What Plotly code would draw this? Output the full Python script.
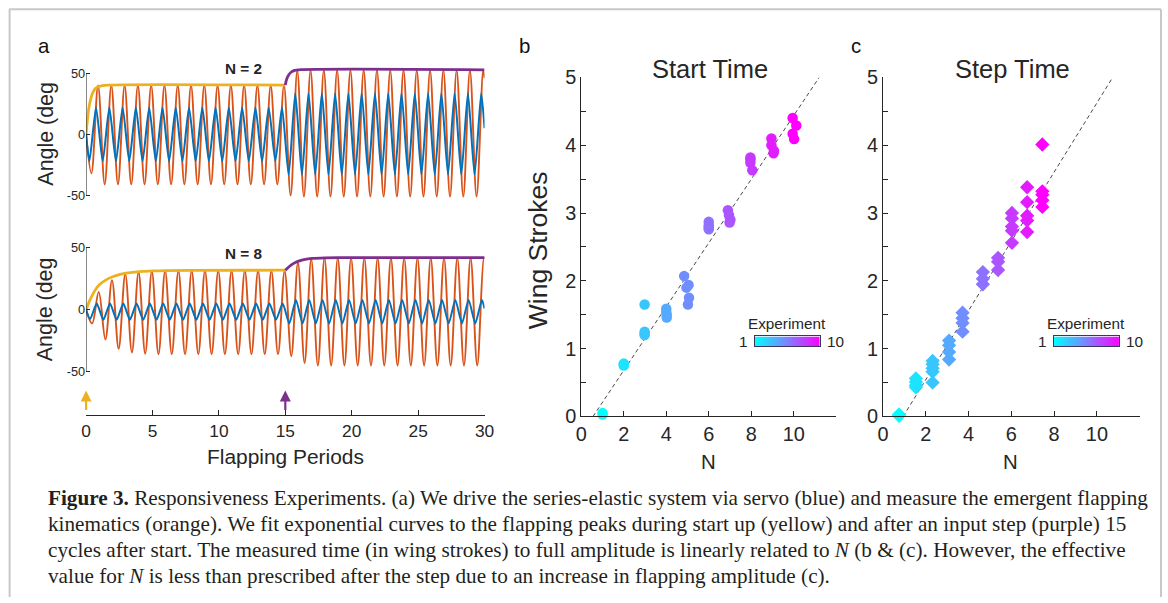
import plotly.graph_objects as go

# The screenshot shows the page with the default body margin and is scaled slightly;
# positions below are given in reference-picture pixels and mapped to figure pixels.
OX, OY = 8, 10.5
SX, SY = 1168 / 1184, 603 / 624
W, H = 1172, 608
FS = 1.02  # font scale to compensate the capture scaling

SANS = "Liberation Sans, Arial, sans-serif"
SERIF = "Liberation Serif, Times New Roman, serif"
INK = "#262626"
BLUE, ORANGE, YELLOW, PURPLE = "#0072BD", "#D95319", "#EDB120", "#7E2F8E"
COOL = [[0, "rgb(0,255,255)"], [1, "rgb(255,0,255)"]]

# ---------------- Panel a data (extrema per flapping cycle) -------------
CYCLES = list(range(30))
T_END = 30

# N = 2
TOP_ORANGE_TROUGH = [-32, -41, -41, -41, -41, -41, -41, -41, -41, -41, -41, -41, -41, -41, -41,
                     -50, -51, -51, -51, -51, -51, -51, -51, -51, -51, -51, -51, -51, -51, -51]
TOP_ORANGE_PEAK = [40, 40, 40, 40, 40, 40, 40, 40, 40, 40, 40, 40, 40, 40, 40,
                   52, 52.5, 52.5, 52.5, 52.5, 52.5, 52.5, 52.5, 52.5, 52.5, 52.5, 52.5, 52.5, 52.5, 52.5]
TOP_ORANGE_PHASE = (0.4, 0.9)
TOP_ORANGE_ENDS = (0, 46)
TOP_BLUE_TROUGH = [-22, -22, -22, -22, -22, -22, -22, -22, -22, -22, -22, -22, -22, -22, -22,
                   -33, -33, -33, -33, -33, -33, -33, -33, -33, -33, -33, -33, -33, -33, -33]
TOP_BLUE_PEAK = [22, 22, 22, 22, 22, 22, 22, 22, 22, 22, 22, 22, 22, 22, 22,
                 33.5, 33.5, 33.5, 33.5, 33.5, 33.5, 33.5, 33.5, 33.5, 33.5, 33.5, 33.5, 33.5, 33.5, 33.5]
TOP_BLUE_PHASE = (0.25, 0.75)
TOP_BLUE_ENDS = (0, 5)
TOP_YELLOW_T = [0, 0.1, 0.2, 0.35, 0.5, 0.7, 0.9, 1.2, 1.6, 15.0]
TOP_YELLOW_V = [0, 12, 21, 29, 34, 37.5, 39, 39.8, 40.3, 40.3]
TOP_PURPLE_T = [15.0, 15.1, 15.25, 15.45, 15.7, 16.0, 30.0]
TOP_PURPLE_V = [40.3, 45, 48.5, 51, 52.3, 52.8, 52.8]

# N = 8
BOT_ORANGE_TROUGH = [-11, -24, -31.5, -34.5, -35.5, -36, -36, -36, -36, -36, -36, -36, -36, -36, -36,
                     -37.5, -43, -45, -45, -45, -45, -45, -45, -45, -45, -45, -45, -45, -45, -45]
BOT_ORANGE_PEAK = [14.5, 24, 29, 30.5, 31.2, 31.5, 31.5, 31.5, 31.5, 31.5, 31.5, 31.5, 31.5, 31.5, 31.5,
                   38, 41, 42, 42, 42, 42, 42, 42, 42, 42, 42, 42, 42, 42, 42]
BOT_ORANGE_PHASE = (0.45, 0.95)
BOT_ORANGE_ENDS = (0, 41.5)
BOT_BLUE_TROUGH = [-7.5, -8, -8, -8, -8, -8, -8, -8, -8, -8, -8, -8, -8, -8, -8,
                   -11, -11, -11, -11, -11, -11, -11, -11, -11, -11, -11, -11, -11, -11, -11]
BOT_BLUE_PEAK = [5, 5, 5, 5, 5, 5, 5, 5, 5, 5, 5, 5, 5, 5, 5,
                 8, 8, 8, 8, 8, 8, 8, 8, 8, 8, 8, 8, 8, 8, 8]
BOT_BLUE_PHASE = (0.3, 0.8)
BOT_BLUE_ENDS = (0, 1)
BOT_YELLOW_T = [0, 0.25, 0.5, 0.75, 1, 1.5, 2, 2.5, 3, 4, 5, 6, 8, 15]
BOT_YELLOW_V = [0, 7, 12.5, 17, 20.3, 24.2, 26.7, 28.5, 29.6, 30.9, 31.4, 31.7, 31.9, 32]
BOT_PURPLE_T = [15, 15.3, 15.6, 16, 16.5, 17, 18, 19, 30]
BOT_PURPLE_V = [32, 35, 37.3, 39.3, 40.8, 41.5, 42, 42.2, 42.2]

ARROW_T = [0, 15]
ARROW_COLORS = [YELLOW, PURPLE]
A_XTICKS = [0, 5, 10, 15, 20, 25, 30]
A_YTICKS = [-50, 0, 50]
A_YTEXT = ["-50", "0", "50"]

# ---------------- Panel b data ----------------
B_N = [1.0, 1.0,
       2.0, 2.0, 2.0,
       2.98, 2.98, 2.98, 2.98,
       4.0, 4.0, 4.02, 4.02,
       4.84, 5.05, 4.95, 5.07, 5.02,
       6.0, 6.0, 6.0, 6.0,
       6.9, 6.95, 7.02, 6.98,
       7.96, 7.96, 7.96, 8.05,
       8.95, 8.95, 9.07, 9.05,
       9.95, 10.12, 9.95, 10.02]
B_Y = [0.03, 0.05,
       0.75, 0.78, 0.77,
       1.65, 1.25, 1.22, 1.2,
       1.59, 1.54, 1.5, 1.46,
       2.07, 1.94, 1.9, 1.75, 1.65,
       2.87, 2.82, 2.79, 2.76,
       3.04, 2.97, 2.9, 2.86,
       3.82, 3.79, 3.74, 3.63,
       4.1, 4.0, 3.92, 3.88,
       4.4, 4.29, 4.17, 4.09]
B_EXP = [1, 1, 2, 2, 2, 3, 3, 3, 3, 4, 4, 4, 4, 5, 5, 5, 5, 5, 6, 6, 6, 6,
         7, 7, 7, 7, 8, 8, 8, 8, 9, 9, 9, 9, 10, 10, 10, 10]
B_FIT_N = [0.55, 11.2]
B_FIT_Y = [0, 5]

# ---------------- Panel c data ----------------
C_N = [0.75, 0.75,
       1.54, 1.54, 1.54, 1.54,
       2.32, 2.32, 2.32, 2.32, 2.32,
       3.09, 3.09, 3.09, 3.09,
       3.72, 3.72, 3.72, 3.72,
       4.67, 4.67, 4.67,
       5.38, 5.38, 5.38,
       6.03, 6.03, 6.03, 6.03, 6.03,
       6.74, 6.74, 6.74, 6.74, 6.74,
       7.45, 7.45, 7.45, 7.45, 7.45]
C_Y = [0.03, 0.01,
       0.56, 0.51, 0.46, 0.43,
       0.82, 0.77, 0.71, 0.66, 0.5,
       1.12, 1.05, 0.95, 0.84,
       1.53, 1.45, 1.38, 1.25,
       2.13, 2.03, 1.95,
       2.34, 2.28, 2.16,
       3.0, 2.92, 2.8, 2.74, 2.56,
       3.38, 3.16, 2.96, 2.89, 2.72,
       4.01, 3.32, 3.27, 3.19, 3.09]
C_EXP = [1, 1, 2, 2, 2, 2, 3, 3, 3, 3, 3, 4, 4, 4, 4, 5, 5, 5, 5, 6, 6, 6, 7, 7, 7,
         8, 8, 8, 8, 8, 9, 9, 9, 9, 9, 10, 10, 10, 10, 10]
C_FIT_N = [0.94, 10.74]
C_FIT_Y = [0, 5]

EXPERIMENTS = [1, 2, 3, 4, 5, 6, 7, 8, 9, 10]
BC_XTICKS = [0, 2, 4, 6, 8, 10, 12]
BC_XTEXT = ["0", "2", "4", "6", "8", "10", ""]

CAPTION = [
    "<b>Figure 3.</b> Responsiveness Experiments. (a) We drive the series-elastic system via servo (blue) and measure the emergent flapping",
    "kinematics (orange). We fit exponential curves to the flapping peaks during start up (yellow) and after an input step (purple) 15",
    "cycles after start. The measured time (in wing strokes) to full amplitude is linearly related to <i>N</i> (b &amp; (c). However, the effective",
    "value for <i>N</i> is less than prescribed after the step due to an increase in flapping amplitude (c).",
]


def px(p):
    return (p / SX - OX) / W


def py(p):
    return 1 - (p / SY - OY) / H


def wave(troughs, peaks, phase, ends):
    t, v = [0], [ends[0]]
    for k, lo, hi in zip(CYCLES, troughs, peaks):
        t += [k + phase[0], k + phase[1]]
        v += [lo, hi]
    t.append(T_END)
    v.append(ends[1])
    return t, v


fig = go.Figure()

# Panel a traces
for (xa, ya, otr, opk, oph, oen, btr, bpk, bph, ben, yt, yv, pt, pv) in [
    ("x", "y", TOP_ORANGE_TROUGH, TOP_ORANGE_PEAK, TOP_ORANGE_PHASE, TOP_ORANGE_ENDS,
     TOP_BLUE_TROUGH, TOP_BLUE_PEAK, TOP_BLUE_PHASE, TOP_BLUE_ENDS,
     TOP_YELLOW_T, TOP_YELLOW_V, TOP_PURPLE_T, TOP_PURPLE_V),
    ("x2", "y2", BOT_ORANGE_TROUGH, BOT_ORANGE_PEAK, BOT_ORANGE_PHASE, BOT_ORANGE_ENDS,
     BOT_BLUE_TROUGH, BOT_BLUE_PEAK, BOT_BLUE_PHASE, BOT_BLUE_ENDS,
     BOT_YELLOW_T, BOT_YELLOW_V, BOT_PURPLE_T, BOT_PURPLE_V),
]:
    t, v = wave(otr, opk, oph, oen)
    fig.add_trace(go.Scatter(x=t, y=v, mode="lines", xaxis=xa, yaxis=ya,
                             line=dict(color=ORANGE, width=1.9, shape="spline", smoothing=1.0)))
    t, v = wave(btr, bpk, bph, ben)
    fig.add_trace(go.Scatter(x=t, y=v, mode="lines", xaxis=xa, yaxis=ya,
                             line=dict(color=BLUE, width=2.0, shape="spline", smoothing=0.6)))
    fig.add_trace(go.Scatter(x=yt, y=yv, mode="lines", xaxis=xa, yaxis=ya,
                             line=dict(color=YELLOW, width=2.8, shape="spline")))
    fig.add_trace(go.Scatter(x=pt, y=pv, mode="lines", xaxis=xa, yaxis=ya,
                             line=dict(color=PURPLE, width=2.8, shape="spline")))

# Panel b / c
for xa, ya, n, y, e, fn, fy, sym, size in [
    ("x4", "y4", B_N, B_Y, B_EXP, B_FIT_N, B_FIT_Y, "circle", 10.5),
    ("x5", "y5", C_N, C_Y, C_EXP, C_FIT_N, C_FIT_Y, "diamond", 11),
]:
    fig.add_trace(go.Scatter(x=fn, y=fy, mode="lines", xaxis=xa, yaxis=ya,
                             line=dict(color="#333333", width=0.9, dash="4px,3px")))
    fig.add_trace(go.Scatter(x=n, y=y, mode="markers", xaxis=xa, yaxis=ya, cliponaxis=False,
                             marker=dict(symbol=sym, size=size, color=e, colorscale=COOL,
                                         cmin=1, cmax=10, line=dict(width=0))))

# colour bars (experiment legend)
for xa, ya in [("x6", "y6"), ("x7", "y7")]:
    fig.add_trace(go.Heatmap(x=EXPERIMENTS, y=[0, 1], z=[EXPERIMENTS, EXPERIMENTS],
                             colorscale=COOL, zmin=1, zmax=10, zsmooth="best",
                             showscale=False, xaxis=xa, yaxis=ya, hoverinfo="skip"))

tickfont = lambda s: dict(family=SANS, size=s * FS, color=INK)
hidden = dict(visible=False, showgrid=False, zeroline=False)

a_xdom = [px(88), px(486.5)]
layout_axes = dict(
    xaxis=dict(domain=a_xdom, range=[0, 30], anchor="y", **hidden),
    yaxis=dict(domain=[py(199.9), py(66.4)], range=[-54, 55], anchor="x", showgrid=False,
               zeroline=False, showline=False, tickmode="array", tickvals=A_YTICKS,
               ticktext=A_YTEXT, ticks="inside", ticklen=4, tickcolor=INK, tickfont=tickfont(12.5)),
    xaxis2=dict(domain=a_xdom, range=[0, 30], anchor="y2", **hidden),
    yaxis2=dict(domain=[py(376.7), py(241.5)], range=[-54, 55], anchor="x2", showgrid=False,
                zeroline=False, showline=False, tickmode="array", tickvals=A_YTICKS,
                ticktext=A_YTEXT, ticks="inside", ticklen=4, tickcolor=INK, tickfont=tickfont(12.5)),
    xaxis3=dict(domain=a_xdom, range=[0, 30], anchor="y3", showgrid=False, zeroline=False,
                showline=True, linecolor=INK, linewidth=1, tickmode="array", tickvals=A_XTICKS,
                ticks="inside", ticklen=5, tickcolor=INK, tickfont=tickfont(17)),
    yaxis3=dict(domain=[py(415), py(388)], range=[0, 1], anchor="x3", **hidden),
)
for i, x0, x1 in [(4, 583.3, 838.2), (5, 885, 1141.7)]:
    layout_axes[f"xaxis{i}"] = dict(domain=[px(x0), px(x1)], range=[0, 12], anchor=f"y{i}",
                                    showgrid=False, zeroline=False, showline=True, linecolor=INK,
                                    linewidth=1, tickmode="array", tickvals=BC_XTICKS,
                                    ticktext=BC_XTEXT, ticks="inside", ticklen=5, tickcolor=INK,
                                    tickfont=tickfont(19.5))
    layout_axes[f"yaxis{i}"] = dict(domain=[py(416.7), py(76.7)], range=[0, 5], anchor=f"x{i}",
                                    showgrid=False, zeroline=False, showline=True, linecolor=INK,
                                    linewidth=1, tickmode="linear", tick0=0, dtick=1,
                                    ticks="inside", ticklen=5, tickcolor=INK, tickfont=tickfont(19.5),
                                    minor=dict(ticks="inside", ticklen=5, dtick=0.5, tick0=0,
                                               tickcolor=INK))
for i, x0, x1 in [(6, 756.7, 821.7), (7, 1056, 1121)]:
    layout_axes[f"xaxis{i}"] = dict(domain=[px(x0), px(x1)], range=[1, 10], anchor=f"y{i}",
                                    showgrid=False, zeroline=False, showline=True, mirror=True,
                                    linecolor="#3a3560", linewidth=1, showticklabels=False, ticks="")
    layout_axes[f"yaxis{i}"] = dict(domain=[py(346.5), py(336.5)], range=[0, 1], anchor=f"x{i}",
                                    showgrid=False, zeroline=False, showline=True, mirror=True,
                                    linecolor="#3a3560", linewidth=1, showticklabels=False, ticks="")

ann = []


def text(x, y, s, size, family=SANS, color=INK, angle=0, xanchor="center", yanchor="middle"):
    ann.append(dict(x=px(x), y=py(y), xref="paper", yref="paper", text=s, showarrow=False,
                    font=dict(family=family, size=size * FS, color=color), textangle=angle,
                    xanchor=xanchor, yanchor=yanchor))


text(46, 45, "a", 20, color="#111")
text(526, 45, "b", 20, color="#111")
text(858, 45, "c", 20, color="#111")
text(245, 68, "<b>N = 2</b>", 15)
text(245, 253, "<b>N = 8</b>", 15)
text(47, 133, "Angle (deg", 21, angle=-90)
text(47, 309, "Angle (deg", 21, angle=-90)
text(287, 457, "Flapping Periods", 20.5)
text(712, 68, "Start Time", 25)
text(1015, 68, "Step Time", 25)
text(540, 250, "Wing Strokes", 26, angle=-90)
text(710, 462, "N", 20)
text(1013, 462, "N", 20)
for cx, bx0, bx1 in [(789, 756.7, 821.7), (1088.5, 1056, 1121)]:
    text(cx, 323, "Experiment", 15)
    text(bx0 - 5, 342, "1", 15, xanchor="right")
    text(bx1 + 5, 342, "10", 15, xanchor="left")
for i, line in enumerate(CAPTION):
    text(48, 498 + 26.3 * i, line, 20.8, family=SERIF, color="#231f20", xanchor="left")

# arrows marking start and step
for t, c in zip(ARROW_T, ARROW_COLORS):
    ann.append(dict(x=t, y=0.9, xref="x3", yref="y3", ax=0, ay=21, axref="pixel", ayref="pixel",
                    showarrow=True, arrowhead=2, arrowsize=1, arrowwidth=2.2, arrowcolor=c, text=""))

shapes = []
# y-axis spines of panel a (from -50 to 50)
for xr, yr in [("x", "y"), ("x2", "y2")]:
    shapes.append(dict(type="line", xref=xr, yref=yr, x0=0, x1=0, y0=A_YTICKS[0], y1=A_YTICKS[-1],
                       line=dict(color=INK, width=1)))
# page frame
frame = dict(color="#c8c8c8", width=2)
right = min(px(1165.5), 1 - 1 / W)
shapes.append(dict(type="line", xref="paper", yref="paper", x0=px(11), x1=right, y0=py(8.5), y1=py(8.5), line=frame))
shapes.append(dict(type="line", xref="paper", yref="paper", x0=px(11.5), x1=px(11.5), y0=py(8.5), y1=0, line=frame))
shapes.append(dict(type="line", xref="paper", yref="paper", x0=right, x1=right, y0=py(8.5), y1=0, line=frame))

fig.update_layout(width=W, height=H, margin=dict(l=0, r=0, t=0, b=0), showlegend=False,
                  paper_bgcolor="white", plot_bgcolor="white", annotations=ann, shapes=shapes,
                  **layout_axes)

fig.write_html("out.html")
